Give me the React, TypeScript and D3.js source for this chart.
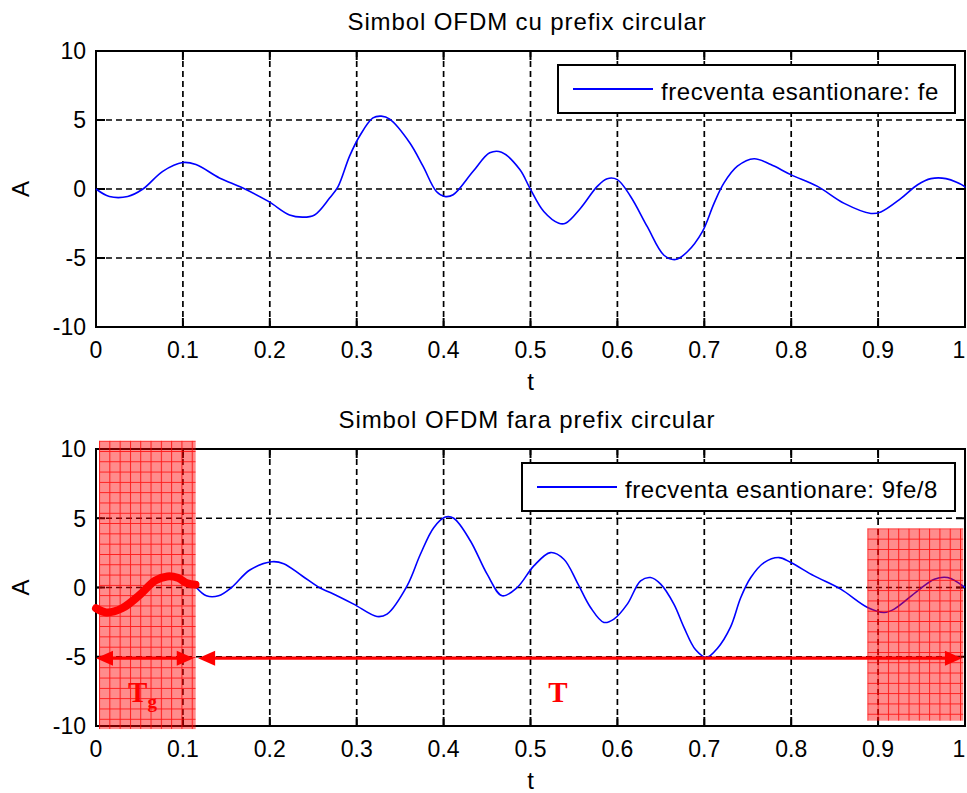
import React from 'react';
import * as d3 from 'd3';

// ---------- data ----------
const xTicks = [0, 0.1, 0.2, 0.3, 0.4, 0.5, 0.6, 0.7, 0.8, 0.9, 1];
const xTickLabels = ['0', '0.1', '0.2', '0.3', '0.4', '0.5', '0.6', '0.7', '0.8', '0.9', '1'];
const yTicks = [-10, -5, 0, 5, 10];
const yTickLabels = ['-10', '-5', '0', '5', '10'];

const titles = ['Simbol OFDM cu prefix circular', 'Simbol OFDM fara prefix circular'];
const legendTexts = ['frecventa esantionare: fe', 'frecventa esantionare: 9fe/8'];
const xLabel = 't';
const yLabel = 'A';

// top: symbol with cyclic prefix, sampled at fe
const topT = [0, 0.0154, 0.0365, 0.054, 0.0768, 0.0998, 0.115, 0.142, 0.169, 0.1985, 0.2227, 0.238, 0.2515,
  0.2688, 0.2784, 0.2918, 0.3034, 0.3187, 0.3283, 0.338, 0.361, 0.3763, 0.3917, 0.4013, 0.411, 0.434, 0.4531,
  0.4666, 0.4877, 0.4992, 0.5153, 0.5326, 0.5403, 0.5576, 0.5768, 0.5883, 0.5999, 0.6152, 0.6344, 0.6536,
  0.667, 0.6805, 0.6978, 0.7112, 0.7227, 0.7381, 0.7573, 0.7765, 0.7995, 0.8303, 0.861, 0.8917, 0.9032,
  0.9263, 0.9455, 0.9608, 0.9781, 0.9992, 1];
const topA = [0, -0.54, -0.54, 0, 1.28, 1.92, 1.77, 0.8, 0.07, -0.9, -1.88, -2.04, -1.88,
  -0.66, 0.15, 2.38, 3.84, 5.15, 5.28, 5.06, 3.35, 1.65, -0.18, -0.54, -0.42, 1.28, 2.62,
  2.67, 1.41, 0.07, -1.63, -2.48, -2.48, -1.39, 0.19, 0.75, 0.68, -0.54, -2.73, -4.8,
  -5.11, -4.55, -3.09, -1.04, 0.44, 1.65, 2.19, 1.77, 1.04, 0.19, -1.04, -1.77, -1.66,
  -0.68, 0.31, 0.75, 0.75, 0.19, 0.1];

// bottom: symbol without prefix, sampled at 9fe/8
const botT = [0.1155, 0.127, 0.141, 0.156, 0.177, 0.2024, 0.216, 0.237, 0.258, 0.2696, 0.2965, 0.3233,
  0.3349, 0.358, 0.3733, 0.3886, 0.402, 0.4117, 0.4309, 0.4501, 0.4674, 0.4847, 0.5038, 0.523, 0.5384,
  0.5538, 0.5691, 0.5845, 0.596, 0.6114, 0.6267, 0.6382, 0.6498, 0.665, 0.6766, 0.69, 0.7025, 0.715,
  0.73, 0.742, 0.7535, 0.7688, 0.786, 0.7995, 0.8264, 0.857, 0.8879, 0.907, 0.9185, 0.9455, 0.9647,
  0.98, 1.0];
const botA = [0, -0.6, -0.6, 0, 1.26, 1.86, 1.72, 0.85, -0.04, -0.36, -1.2, -2.09,
  -1.92, 0.12, 2.4, 4.32, 5.09, 5.0, 3.36, 0.96, -0.6, 0, 1.56, 2.52, 2.04,
  0.36, -1.44, -2.52, -2.28, -1.2, 0.48, 0.72, 0.24, -1.2, -2.88, -4.5, -5.05, -4.4,
  -2.88, -0.72, 0.72, 1.8, 2.16, 1.8, 0.84, -0.12, -1.44, -1.8, -1.56, -0.24, 0.6,
  0.72, 0];

// prefix portion highlighted in red (bottom)
const prefixT = [0, 0.012, 0.03, 0.05, 0.068, 0.082, 0.094, 0.105, 0.1145];
const prefixA = [-1.5, -1.8, -1.5, -0.55, 0.5, 0.8, 0.7, 0.3, 0.2];

// shaded guard regions (bottom)
const guardT0 = [0.0035, 0.8876];
const guardT1 = [0.1147, 0.998];
const guardATop = [10.6, 4.27];
const guardABottom = [-10.22, -9.62];

// double arrows (bottom)
const arrowStart = [0, 0.1175];
const arrowEnd = [0.1125, 0.9965];
const arrowLevel = -5.1;
const arrowLabelMain = ['T', 'T'];
const arrowLabelSub = ['g', ''];
const arrowLabelT = [0.0535, 0.5316];
const arrowLabelA = [-8.25, -8.25];

// ---------- layout ----------
const W = 967;
const H = 793;
const LEFT = 96;
const RIGHT = 965;
const PANELS = [
  { top: 51, bottom: 327, legendX: 558, legendW: 397 },
  { top: 449, bottom: 726, legendX: 522, legendW: 433 },
];
const FONT = '"Liberation Sans", Arial, Helvetica, sans-serif';
const SERIF = '"Liberation Serif", "Times New Roman", serif';
const BLUE = '#0000ff';
const RED = '#ff0000';

const xScale = d3.scaleLinear().domain([0, 1]).range([LEFT, RIGHT]);

function Axes({ idx }: { idx: number }) {
  const p = PANELS[idx];
  const y = d3.scaleLinear().domain([-10, 10]).range([p.bottom, p.top]);
  const tickLen = 9;
  return (
    <g>
      {/* grid */}
      {xTicks.slice(1, -1).map((t) => (
        <line key={'gx' + t} x1={xScale(t)} x2={xScale(t)} y1={p.top} y2={p.bottom}
          stroke="#000" strokeWidth={1.7} strokeDasharray="6,4" />
      ))}
      {yTicks.slice(1, -1).map((v) => (
        <line key={'gy' + v} x1={LEFT} x2={RIGHT} y1={y(v)} y2={y(v)}
          stroke="#000" strokeWidth={1.7} strokeDasharray="6,4" />
      ))}
      {/* ticks */}
      {xTicks.map((t) => (
        <g key={'tx' + t}>
          <line x1={xScale(t)} x2={xScale(t)} y1={p.bottom} y2={p.bottom - tickLen} stroke="#000" strokeWidth={2} />
          <line x1={xScale(t)} x2={xScale(t)} y1={p.top} y2={p.top + tickLen} stroke="#000" strokeWidth={2} />
        </g>
      ))}
      {yTicks.map((v) => (
        <g key={'ty' + v}>
          <line x1={LEFT} x2={LEFT + tickLen} y1={y(v)} y2={y(v)} stroke="#000" strokeWidth={2} />
          <line x1={RIGHT} x2={RIGHT - tickLen} y1={y(v)} y2={y(v)} stroke="#000" strokeWidth={2} />
        </g>
      ))}
      {/* box */}
      <rect x={LEFT} y={p.top} width={RIGHT - LEFT} height={p.bottom - p.top} fill="none" stroke="#000" strokeWidth={2} />
      {/* tick labels */}
      {xTicks.map((t, i) => (
        <text key={'lx' + t} x={Math.min(xScale(t), W - 8)} y={p.bottom + 31} textAnchor="middle" fontFamily={FONT} fontSize={23} fill="#000">
          {xTickLabels[i]}
        </text>
      ))}
      {yTicks.map((v, i) => (
        <text key={'ly' + v} x={86} y={y(v)} dy="0.36em" textAnchor="end" fontFamily={FONT} fontSize={23} fill="#000">
          {yTickLabels[i]}
        </text>
      ))}
      {/* labels */}
      <text x={(LEFT + RIGHT) / 2} y={p.bottom + 63} textAnchor="middle" fontFamily={FONT} fontSize={24} fill="#000">{xLabel}</text>
      <text transform={`translate(29,${(p.top + p.bottom) / 2}) rotate(-90)`} textAnchor="middle" fontFamily={FONT} fontSize={24} fill="#000">{yLabel}</text>
      <text x={527} y={p.top - 21} textAnchor="middle" fontFamily={FONT} fontSize={24} letterSpacing={0.9} fill="#000">{titles[idx]}</text>
    </g>
  );
}

function Legend({ idx }: { idx: number }) {
  const p = PANELS[idx];
  const y0 = p.top + 14;
  const h = 48;
  return (
    <g>
      <rect x={p.legendX} y={y0} width={p.legendW} height={h} fill="#fff" stroke="#000" strokeWidth={2} />
      <line x1={p.legendX + 15} x2={p.legendX + 95} y1={y0 + h / 2} y2={y0 + h / 2} stroke={BLUE} strokeWidth={1.8} />
      <text x={p.legendX + 103} y={y0 + 35} fontFamily={FONT} fontSize={24} letterSpacing={0.55} fill="#000">{legendTexts[idx]}</text>
    </g>
  );
}

export default function App() {
  const pTop = PANELS[0];
  const pBot = PANELS[1];
  const yTop = d3.scaleLinear().domain([-10, 10]).range([pTop.bottom, pTop.top]);
  const yBot = d3.scaleLinear().domain([-10, 10]).range([pBot.bottom, pBot.top]);

  const curve = d3.curveCatmullRom.alpha(0.5);
  const lineTop = d3.line<number>().x((_, i) => xScale(topT[i])).y((a) => yTop(a)).curve(curve);
  const lineBot = d3.line<number>().x((_, i) => xScale(botT[i])).y((a) => yBot(a)).curve(curve);
  const linePre = d3.line<number>().x((_, i) => xScale(prefixT[i])).y((a) => yBot(a)).curve(curve);

  const cell = 10.3;
  const ay = yBot(arrowLevel);
  const headL = 17;
  const headW = 7.5;

  return (
    <svg width={W} height={H} viewBox={`0 0 ${W} ${H}`} style={{ position: 'absolute', left: 0, top: 0, background: '#fff', display: 'block' }}>
      <defs>
        {guardT0.map((t0, i) => (
          <pattern key={'pat' + i} id={'hatch' + i} patternUnits="userSpaceOnUse" width={cell} height={cell}
            x={xScale(t0)} y={yBot(guardATop[i])}>
            <rect width={cell} height={cell} fill={RED} fillOpacity={0.45} />
            <path d={`M0,0.5H${cell}M0.5,0V${cell}`} stroke={RED} strokeOpacity={0.8} strokeWidth={1} />
          </pattern>
        ))}
      </defs>
      <rect x={0} y={0} width={W} height={H} fill="#fff" />

      {/* top panel */}
      <Axes idx={0} />
      <path d={lineTop(topA) || ''} fill="none" stroke={BLUE} strokeWidth={1.6} strokeLinejoin="round" />
      <Legend idx={0} />

      {/* bottom panel */}
      <Axes idx={1} />
      <path d={lineBot(botA) || ''} fill="none" stroke={BLUE} strokeWidth={1.6} strokeLinejoin="round" />
      <Legend idx={1} />

      {/* guard regions */}
      {guardT0.map((t0, i) => (
        <rect key={'g' + i} x={xScale(t0)} y={yBot(guardATop[i])} width={xScale(guardT1[i]) - xScale(t0)}
          height={yBot(guardABottom[i]) - yBot(guardATop[i])} fill={`url(#hatch${i})`} />
      ))}

      {/* prefix highlighted */}
      <path d={linePre(prefixA) || ''} fill="none" stroke={RED} strokeWidth={8} strokeLinecap="round" strokeLinejoin="round" />

      {/* arrows */}
      {arrowStart.map((s, i) => {
        const x0 = xScale(s);
        const x1 = xScale(arrowEnd[i]);
        return (
          <g key={'ar' + i}>
            <line x1={x0 + headL - 2} x2={x1 - headL + 2} y1={ay} y2={ay} stroke={RED} strokeWidth={3.2} />
            <polygon points={`${x0},${ay} ${x0 + headL},${ay - headW} ${x0 + headL},${ay + headW}`} fill={RED} />
            <polygon points={`${x1},${ay} ${x1 - headL},${ay - headW} ${x1 - headL},${ay + headW}`} fill={RED} />
          </g>
        );
      })}
      {arrowLabelMain.map((m, i) => (
        <text key={'al' + i} x={xScale(arrowLabelT[i])} y={yBot(arrowLabelA[i])} textAnchor="middle"
          fontFamily={SERIF} fontWeight="bold" fontSize={29} fill={RED}>
          {m}
          {arrowLabelSub[i] ? <tspan fontSize={19} dy={6}>{arrowLabelSub[i]}</tspan> : null}
        </text>
      ))}
    </svg>
  );
}
